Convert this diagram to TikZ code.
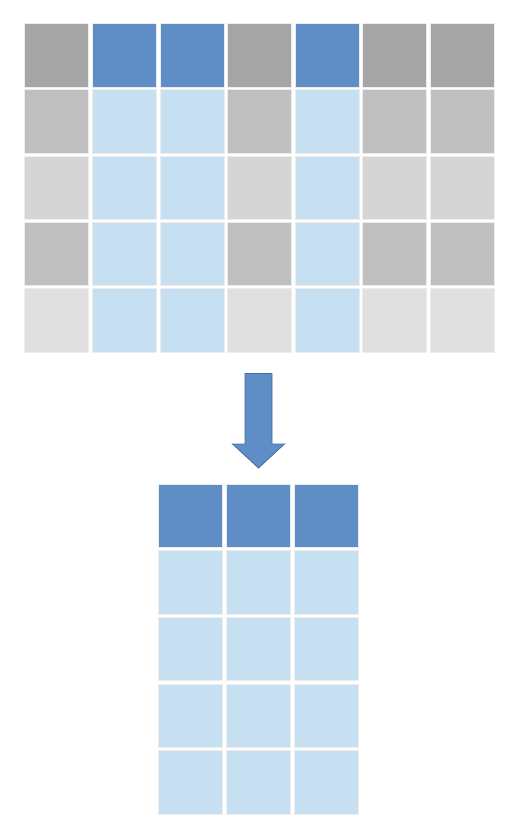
\documentclass[tikz,border=0pt]{standalone}
\usepackage{tikz}
\usetikzlibrary{calc}
\definecolor{head-gray}{HTML}{A5A5A5}
\definecolor{row-gray}{HTML}{BFBFBF}
\definecolor{mid-gray}{HTML}{D5D5D5}
\definecolor{pale-gray}{HTML}{E0E0E0}
\definecolor{head-blue}{HTML}{5F8DC5}
\definecolor{cell-blue}{HTML}{C6E0F2}
\definecolor{edge-blue}{HTML}{41719C}

\begin{document}
\begin{tikzpicture}[x=1pt,y=-1pt,
	cell/.style={draw=black!7,line width=0.8pt,inner sep=0pt,anchor=north west,
		minimum width=64pt,minimum height=63.5pt}]
	
	\useasboundingbox (0,0) rectangle (524,836);
	
	%--- TOP TABLE --------------------------
	
	% Gray columns
	\foreach \c in {1,4,6,7}
		\foreach \r/\col in {1/head-gray,2/row-gray,3/mid-gray,4/row-gray,5/pale-gray}{
			\node [cell,fill=\col] (t\r\c) at (24.4+67.6*\c-67.6,23.2+66.2*\r-66.2) {};
		}
	
	% Blue columns
	\foreach \c in {2,3,5}
		\foreach \r/\col in {1/head-blue,2/cell-blue,3/cell-blue,4/cell-blue,5/cell-blue}{
			\node [cell,fill=\col] (t\r\c) at (24.4+67.6*\c-67.6,23.2+66.2*\r-66.2) {};
		}
	
	%--- BIG ARROW --------------------------
	
	\coordinate (A) at (258.5,373.5);
	\draw [edge-blue,fill=head-blue,line width=0.8pt,line join=miter]
		(A) ++(-13.5,0) -- ++(27,0) -- ++(0,70.5) -- ++(12.5,0) -- (258.5,468)
		-- (232.5,444) -- ++(12.5,0) -- cycle;
	
	%--- BOTTOM TABLE -----------------------
	
	\foreach \c in {1,2,3}
		\foreach \r/\col in {1/head-blue,2/cell-blue,3/cell-blue,4/cell-blue,5/cell-blue}{
			\node [cell,fill=\col] (b\r\c) at (157.7+68*\c-68,483.7+66.6*\r-66.6) {};
		}
	
\end{tikzpicture}
\end{document}
